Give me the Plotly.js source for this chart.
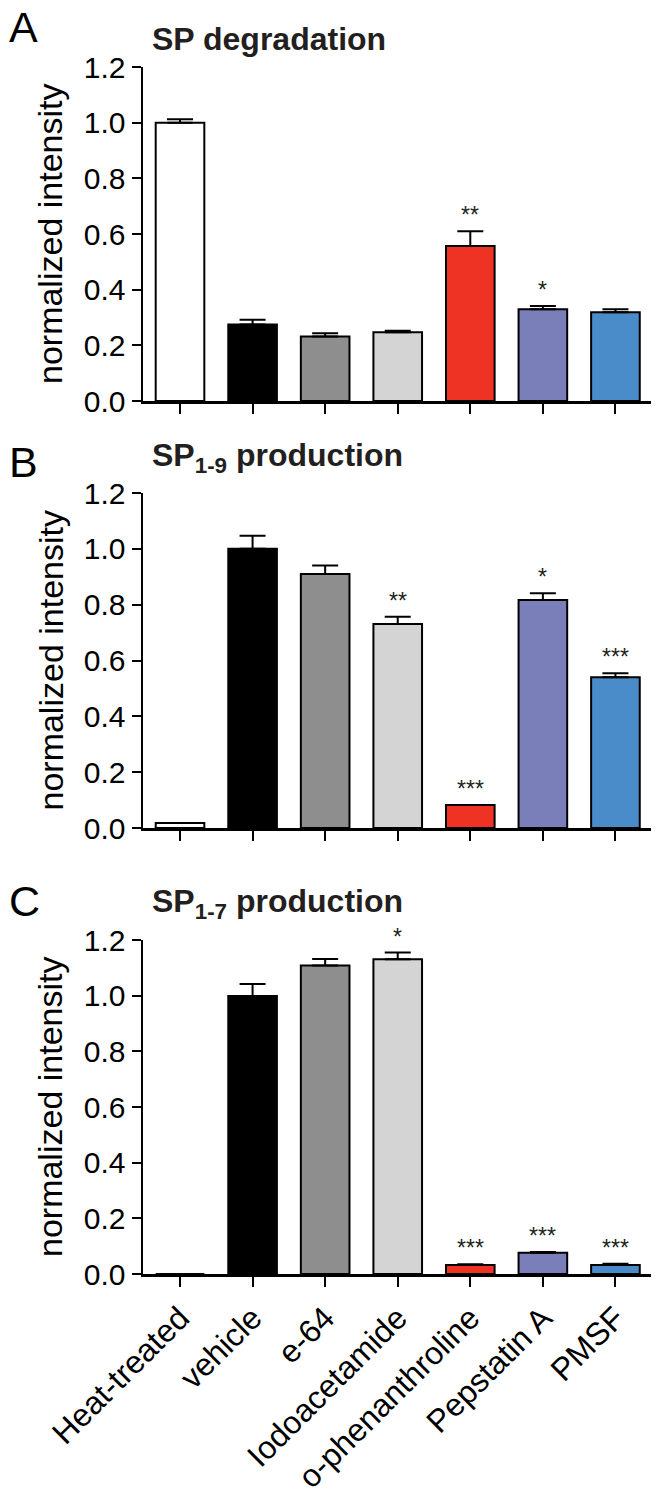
<!DOCTYPE html>
<html>
<head>
<meta charset="utf-8">
<script src="https://cdn.plot.ly/plotly-3.0.1.min.js"></script>
<style>html,body{margin:0;padding:0;background:#fff;}#chart{width:656px;height:1497px;}</style>
</head>
<body>
<div id="chart"></div>
<script>
// ---- data ----
const categories = ["Heat-treated", "vehicle", "e-64", "Iodoacetamide", "o-phenanthroline", "Pepstatin A", "PMSF"];
const barColors = ["#ffffff", "#000000", "#8e8e8e", "#d4d4d4", "#ee3224", "#7a7fba", "#4a8bc9"];

const degradationMean = [1.0, 0.275, 0.232, 0.247, 0.557, 0.330, 0.319];
const degradationErr  = [0.012, 0.017, 0.011, 0.005, 0.053, 0.011, 0.011];
const degradationSig  = ["", "", "", "", "**", "*", ""];

const sp19Mean = [0.018, 1.0, 0.910, 0.731, 0.082, 0.817, 0.540];
const sp19Err  = [0.0, 0.047, 0.030, 0.026, 0.0, 0.024, 0.014];
const sp19Sig  = ["", "", "", "**", "***", "*", "***"];

const sp17Mean = [0.0, 0.999, 1.108, 1.131, 0.032, 0.076, 0.032];
const sp17Err  = [0.0, 0.043, 0.024, 0.024, 0.003, 0.003, 0.005];
const sp17Sig  = ["", "", "", "*", "***", "***", "***"];

const panelTitles = ["SP degradation", "SP<sub>1-9</sub> production", "SP<sub>1-7</sub> production"];
const panelLetters = ["A", "B", "C"];
const yTitle = "normalized intensity";
const yTicks = [0, 0.2, 0.4, 0.6, 0.8, 1.0, 1.2];

// ---- layout helpers ----
const W = 656, H = 1497;
const px = x => x / W;
const py = y => 1 - y / H;
const FONT = "Liberation Sans, Arial, Helvetica, sans-serif";

const panels = [
  {mean: degradationMean, err: degradationErr, sig: degradationSig, top: 67, bottom: 401, titleY: 39, letterY: 27},
  {mean: sp19Mean, err: sp19Err, sig: sp19Sig, top: 493, bottom: 828, titleY: 457, letterY: 462},
  {mean: sp17Mean, err: sp17Err, sig: sp17Sig, top: 940, bottom: 1274, titleY: 903, letterY: 901}
];

const traces = [];
const annotations = [];
const layout = {
  width: W, height: H,
  margin: {l: 0, r: 0, t: 0, b: 0},
  paper_bgcolor: "#ffffff", plot_bgcolor: "#ffffff",
  showlegend: false,
  font: {family: FONT, color: "#000"},
  annotations: annotations
};

panels.forEach((p, i) => {
  const n = i === 0 ? "" : String(i + 1);
  const xa = "x" + n, ya = "y" + n;
  traces.push({
    type: "bar",
    x: categories,
    y: p.mean,
    xaxis: xa, yaxis: ya,
    width: 0.67,
    marker: {color: barColors, line: {color: "#000", width: 2}},
    error_y: {type: "data", symmetric: false, array: p.err, arrayminus: p.err.map(() => 0),
              color: "#000", thickness: 2, width: 13},
    hoverinfo: "x+y"
  });
  layout["xaxis" + n] = {
    domain: [px(143), px(651)],
    anchor: ya,
    type: "category",
    range: [-0.51, 6.49],
    showline: true, linecolor: "#000", linewidth: 2.5,
    ticks: "outside", ticklen: 10, tickwidth: 2, tickcolor: "#000",
    showgrid: false, zeroline: false,
    showticklabels: i === 2,
    tickangle: -45,
    tickfont: {family: FONT, size: 32, color: "#000"}
  };
  layout["yaxis" + n] = {
    domain: [py(p.bottom), py(p.top)],
    anchor: xa,
    range: [0, 1.2],
    tickvals: yTicks,
    tickformat: ".1f",
    showline: true, linecolor: "#000", linewidth: 2.5,
    ticks: "outside", ticklen: 9, tickwidth: 2, tickcolor: "#000",
    showgrid: false, zeroline: false,
    tickfont: {family: FONT, size: 30, color: "#000"}
  };
  // y title
  annotations.push({
    xref: "paper", yref: "paper",
    x: px(50), y: py((p.top + p.bottom) / 2),
    text: yTitle, textangle: -90, showarrow: false,
    xanchor: "center", yanchor: "middle",
    font: {family: FONT, size: 34, color: "#000"}
  });
  // panel title
  annotations.push({
    xref: "paper", yref: "paper",
    x: px(150), y: py(p.titleY),
    text: "<b>" + panelTitles[i] + "</b>", showarrow: false,
    xanchor: "left", yanchor: "middle",
    font: {family: FONT, size: 32, color: "#231f20"}
  });
  // panel letter
  annotations.push({
    xref: "paper", yref: "paper",
    x: px(7), y: py(p.letterY),
    text: panelLetters[i], showarrow: false,
    xanchor: "left", yanchor: "middle",
    font: {family: FONT, size: 43, color: "#000"}
  });
  // significance stars
  p.sig.forEach((s, k) => {
    if (!s) return;
    annotations.push({
      xref: xa, yref: ya,
      x: categories[k], y: p.mean[k] + p.err[k],
      text: s, showarrow: false,
      xanchor: "center", yanchor: "bottom", yshift: 1,
      font: {family: FONT, size: 23, color: "#231f20"}
    });
  });
});

Plotly.newPlot("chart", traces, layout, {staticPlot: true, displayModeBar: false});
</script>
</body>
</html>
